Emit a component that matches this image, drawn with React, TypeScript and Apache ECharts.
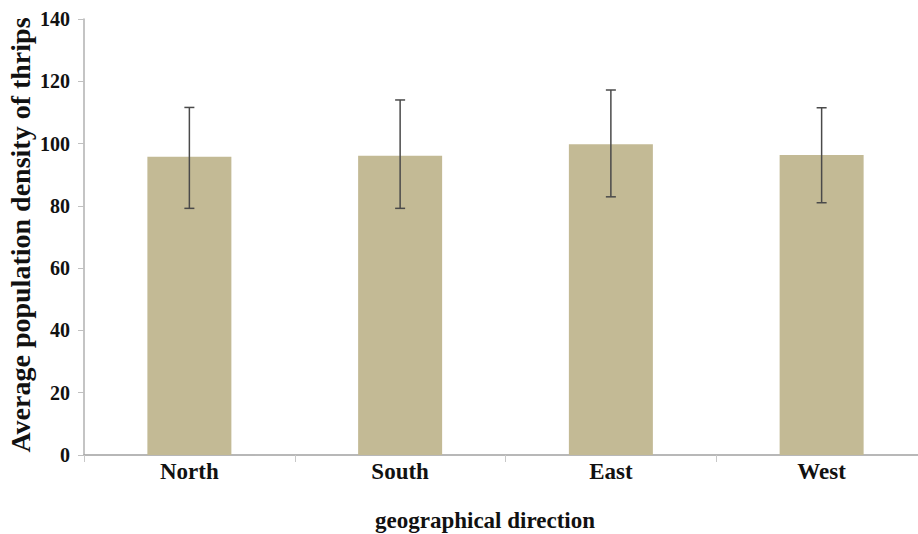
import React, { useEffect, useRef } from "react";
import * as echarts from "echarts";

const categories = ["North", "South", "East", "West"];
const means = [95.8, 96.1, 99.8, 96.3];
const errLow = [79.2, 79.2, 82.9, 81.0];
const errHigh = [111.6, 114.0, 117.2, 111.5];
const yTicks = { min: 0, max: 140, interval: 20 };

const FONT = "'Liberation Serif', 'Times New Roman', serif";

export default function App() {
  const ref = useRef<HTMLDivElement>(null);
  useEffect(() => {
    document.body.style.margin = "0";
    const chart = echarts.init(ref.current!, null, { renderer: "svg" });
    const errData = categories.map((_, i) => [i, errLow[i], errHigh[i]]);
    chart.setOption({
      animation: false,
      backgroundColor: "#ffffff",
      grid: { left: 84, top: 19, bottom: 79, right: 3, containLabel: false },
      xAxis: {
        type: "category",
        data: categories,
        boundaryGap: true,
        axisLine: { lineStyle: { color: "#a0a0a0", width: 1.5 } },
        axisTick: { show: true, alignWithLabel: false, length: 7, lineStyle: { color: "#c8c8c8" } },
        axisLabel: { color: "#111", fontFamily: FONT, fontWeight: "bold", fontSize: 23, margin: 5 },
      },
      yAxis: {
        type: "value",
        min: yTicks.min,
        max: yTicks.max,
        interval: yTicks.interval,
        splitLine: { show: false },
        axisLine: { show: true, lineStyle: { color: "#b0b0b0", width: 1.5 } },
        axisTick: { show: true, length: 6, lineStyle: { color: "#c0c0c0" } },
        axisLabel: { color: "#111", fontFamily: FONT, fontWeight: "bold", fontSize: 20, margin: 14 },
      },
      graphic: [
        {
          type: "text",
          x: 485,
          y: 520,
          style: {
            text: "geographical direction",
            font: `bold 23px ${FONT}`,
            fill: "#111",
            textAlign: "center",
            textVerticalAlign: "middle",
          },
        },
        {
          type: "text",
          x: 20,
          y: 235,
          rotation: Math.PI / 2,
          style: {
            text: "Average population density of thrips",
            font: `bold 28px ${FONT}`,
            fill: "#111",
            textAlign: "center",
            textVerticalAlign: "middle",
          },
        },
      ],
      series: [
        {
          type: "bar",
          data: means,
          barWidth: 84,
          itemStyle: { color: "#c3ba95" },
          z: 2,
        },
        {
          type: "custom",
          data: errData,
          z: 3,
          renderItem: (params: any, api: any) => {
            const lo = api.coord([api.value(0), api.value(1)]);
            const hi = api.coord([api.value(0), api.value(2)]);
            const cap = 5;
            const style = { stroke: "#4a4a4a", lineWidth: 1.5 };
            return {
              type: "group",
              children: [
                { type: "line", shape: { x1: lo[0], y1: lo[1], x2: hi[0], y2: hi[1] }, style },
                { type: "line", shape: { x1: hi[0] - cap, y1: hi[1], x2: hi[0] + cap, y2: hi[1] }, style },
                { type: "line", shape: { x1: lo[0] - cap, y1: lo[1], x2: lo[0] + cap, y2: lo[1] }, style },
              ],
            };
          },
        },
      ],
    });
    return () => chart.dispose();
  }, []);
  return (
    <div style={{ width: 918, height: 534, overflow: "hidden" }}>
      <div ref={ref} style={{ width: 930, height: 534 }} />
    </div>
  );
}
